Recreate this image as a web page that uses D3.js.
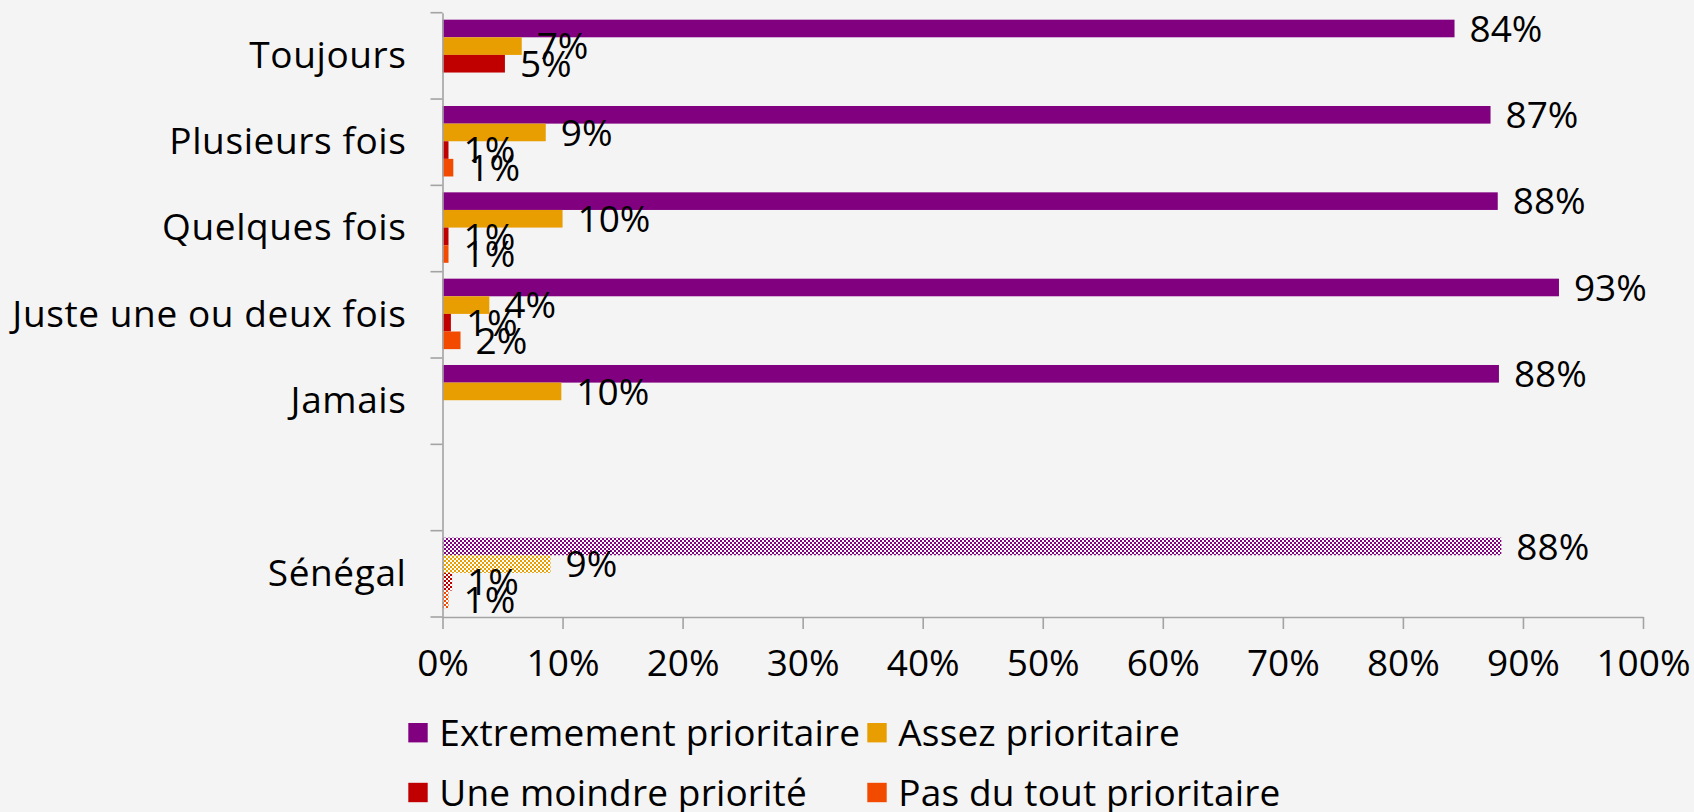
<!DOCTYPE html>
<html>
<head>
<meta charset="utf-8">
<script src="https://cdn.jsdelivr.net/npm/d3@7"></script>
<style>
  body { margin: 0; background: #f4f4f4; }
  svg text { font-family: "Open Sans", "Liberation Sans", sans-serif; fill: #000; }
</style>
</head>
<body>
<div id="chart"></div>
<script>
// categories (top to bottom), the blank one is the gap before Sénégal
var categories = ["Toujours", "Plusieurs fois", "Quelques fois", "Juste une ou deux fois", "Jamais", "", "Sénégal"];
var seriesNames = ["Extremement prioritaire", "Assez prioritaire", "Une moindre priorité", "Pas du tout prioritaire"];
var seriesColors = ["#800080", "#E89E00", "#C00000", "#F24B00"];

// percentages (null = no bar)
var extremement = [84.3, 87.3, 87.9, 93.0, 88.0, null, 88.2];
var assez       = [6.6, 8.6, 10.0, 3.9, 9.9, null, 9.0];
var moindre     = [5.2, 0.5, 0.5, 0.7, null, null, 0.8];
var pasDuTout   = [null, 0.9, 0.5, 1.5, null, null, 0.5];

var xTicks = [0, 10, 20, 30, 40, 50, 60, 70, 80, 90, 100];
var patterned = ["Sénégal"];

var width = 1694, height = 812;
var margin = {top: 12.7, left: 442.5, right: 51, bottom: 195};

var svg = d3.select("#chart")
  .append("svg")
  .attr("width", width)
  .attr("height", height);

// small checkerboard fills for the Sénégal bars
var defs = svg.append("defs");
seriesColors.forEach(function(c, i) {
  var p = defs.append("pattern")
    .attr("id", "chk" + i)
    .attr("width", 4).attr("height", 4)
    .attr("patternUnits", "userSpaceOnUse");
  p.append("rect").attr("width", 4).attr("height", 4).attr("fill", "#fff");
  p.append("rect").attr("width", 2).attr("height", 2).attr("fill", c);
  p.append("rect").attr("x", 2).attr("y", 2).attr("width", 2).attr("height", 2).attr("fill", c);
});

var x = d3.scaleLinear()
  .domain([0, 100])
  .range([margin.left, width - margin.right]);

var y = d3.scaleBand()
  .domain(categories)
  .range([margin.top, height - margin.bottom]);

var inner = d3.scaleBand()
  .domain(seriesNames)
  .range([0, y.bandwidth()])
  .paddingOuter(0.45)
  .align(0.44);

var seriesValues = [extremement, assez, moindre, pasDuTout];
var data = [];
categories.forEach(function(cat, ci) {
  seriesNames.forEach(function(s, si) {
    var v = seriesValues[si][ci];
    if (v != null) data.push({cat: cat, series: s, si: si, value: v});
  });
});

// bars
svg.append("g")
  .selectAll("rect")
  .data(data)
  .enter()
  .append("rect")
    .attr("x", x(0))
    .attr("y", function(d) { return y(d.cat) + inner(d.series); })
    .attr("width", function(d) { return x(d.value) - x(0); })
    .attr("height", inner.bandwidth())
    .attr("fill", function(d) {
      return patterned.indexOf(d.cat) >= 0 ? "url(#chk" + d.si + ")" : seriesColors[d.si];
    });

// value labels
svg.append("g")
  .selectAll("text")
  .data(data)
  .enter()
  .append("text")
    .attr("x", function(d) { return x(d.value) + 15; })
    .attr("y", function(d) { return y(d.cat) + inner(d.series) + inner.bandwidth() / 2; })
    .attr("dy", "0.36em")
    .style("font-size", "37px")
    .text(function(d) { return Math.round(d.value) + "%"; });

// x axis
var xAxis = svg.append("g")
  .attr("transform", "translate(0," + (height - margin.bottom) + ")")
  .call(d3.axisBottom(x)
    .tickValues(xTicks)
    .tickSize(12)
    .tickSizeOuter(0)
    .tickPadding(21)
    .tickFormat(function(d) { return d + "%"; }));
xAxis.selectAll("text").style("font-size", "37px");

// y axis: labels at band centres, ticks at band edges
var yAxis = svg.append("g")
  .attr("transform", "translate(" + x(0) + ",0)")
  .call(d3.axisLeft(y).tickSize(0).tickSizeOuter(0).tickPadding(36));
yAxis.selectAll("text")
  .style("font-size", "37px")
  .style("letter-spacing", "0.6px");
var edges = categories.map(function(c) { return y(c); }).concat([y.range()[1]]);
yAxis.selectAll(".edge")
  .data(edges)
  .enter()
  .append("line")
    .attr("class", "edge")
    .attr("x1", -12).attr("x2", 0)
    .attr("y1", function(d) { return d; })
    .attr("y2", function(d) { return d; });

svg.selectAll(".domain, .tick line, .edge")
  .attr("stroke", "#a3a3a3")
  .attr("stroke-width", 1.6);

// legend, 2 columns x 2 rows
var legendCols = [408.3, 867.3], legendRows = [732.7, 792.5];
var legend = svg.append("g")
  .selectAll("g")
  .data(seriesNames)
  .enter()
  .append("g")
    .attr("transform", function(d, i) {
      return "translate(" + legendCols[i % 2] + "," + legendRows[Math.floor(i / 2)] + ")";
    });
legend.append("rect")
  .attr("y", -9.7)
  .attr("width", 19.4).attr("height", 19.4)
  .attr("fill", function(d, i) { return seriesColors[i]; });
legend.append("text")
  .attr("x", 31)
  .attr("dy", "0.36em")
  .style("font-size", "37px")
  .style("letter-spacing", "0.15px")
  .text(function(d) { return d; });
</script>
</body>
</html>
